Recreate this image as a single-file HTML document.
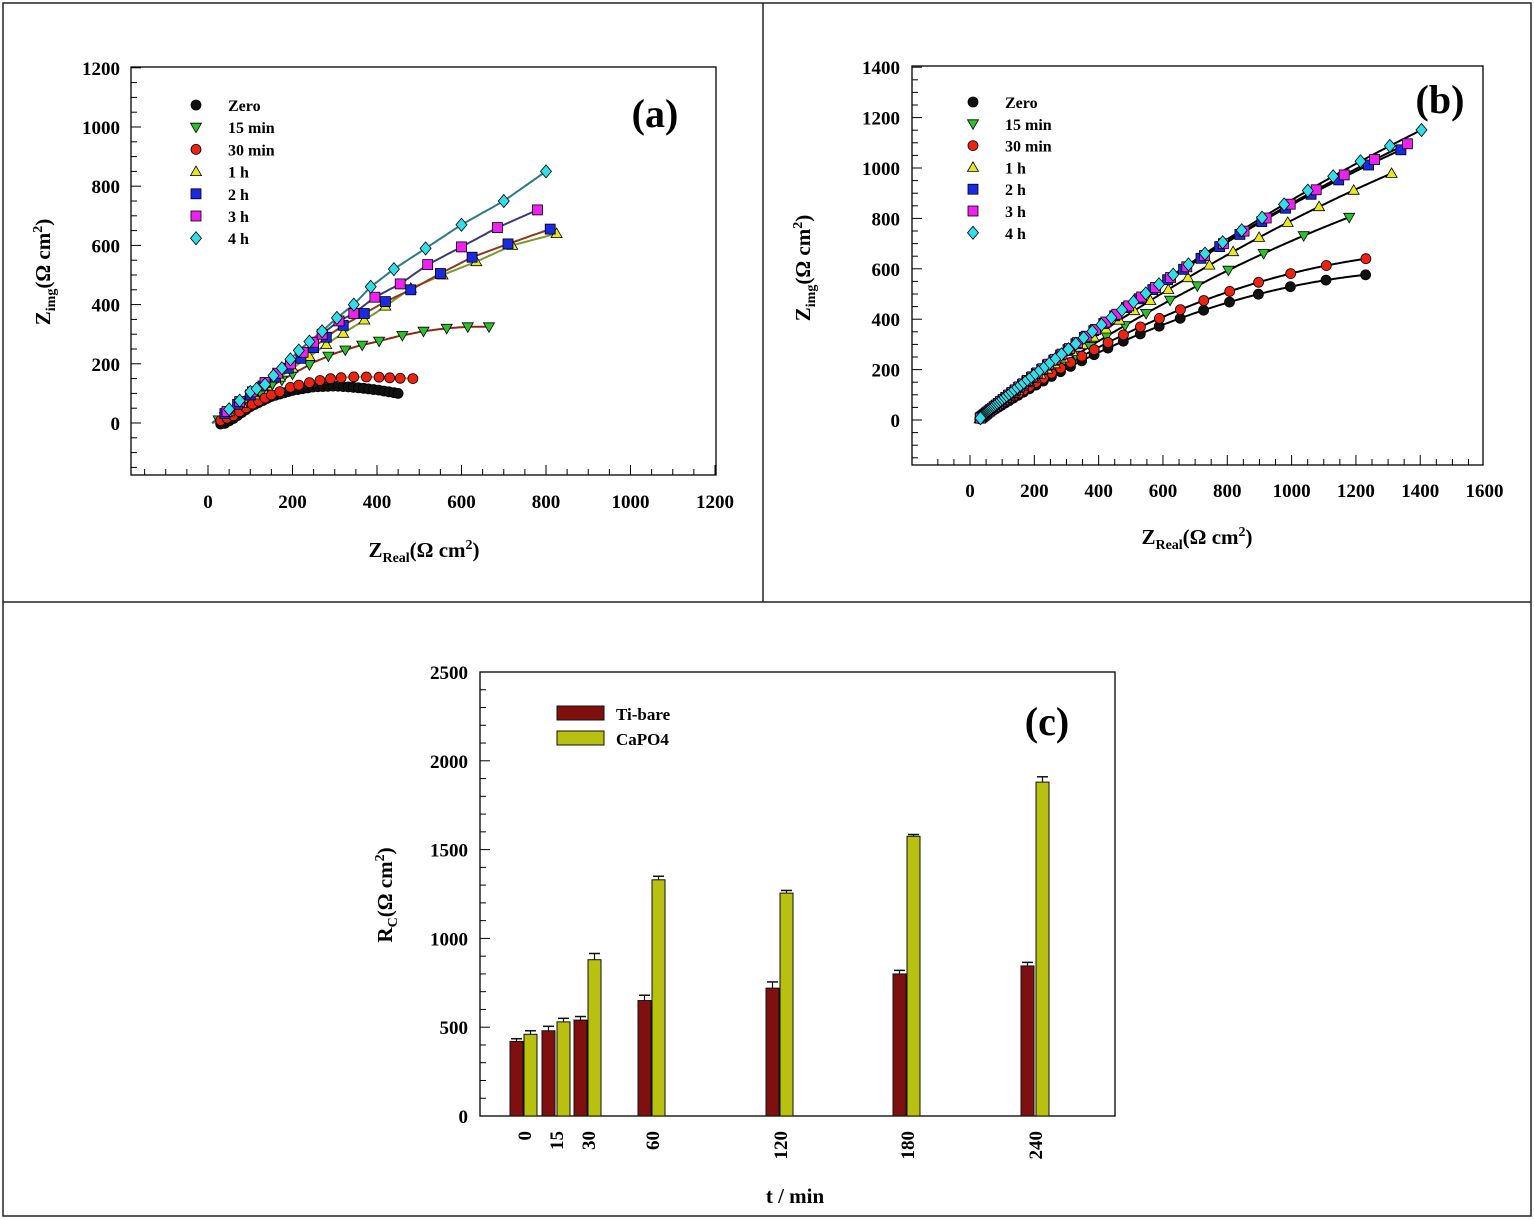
<!DOCTYPE html>
<html><head><meta charset="utf-8">
<style>
html,body{margin:0;padding:0;background:#fff;overflow:hidden;}
svg{display:block;font-family:"Liberation Serif",serif;font-weight:bold;}
</style></head>
<body>
<svg id="s" width="1534" height="1220" xmlns="http://www.w3.org/2000/svg">
<rect x="3" y="3" width="1528" height="1213" fill="none" stroke="#222" stroke-width="1.5"/>
<line x1="763" y1="3" x2="763" y2="602" stroke="#222" stroke-width="1.5"/>
<line x1="3" y1="602" x2="1531" y2="602" stroke="#222" stroke-width="1.5"/>
</svg>
<script>
const S=document.getElementById('s');let H='';
function add(s){H+=s;}
function mk(shape,x,y,c,r){
 x=+x;y=+y;r=r||5.5;
 const f=v=>v.toFixed(1);
 if(shape=='c')return `<circle cx="${f(x)}" cy="${f(y)}" r="${r}" fill="${c}" stroke="#000" stroke-width="0.8"/>`;
 if(shape=='d')return `<polygon points="${f(x)},${f(y-r*1.3)} ${f(x+r*1.1)},${f(y)} ${f(x)},${f(y+r*1.3)} ${f(x-r*1.1)},${f(y)}" fill="${c}" stroke="#000" stroke-width="0.8"/>`;
 if(shape=='s')return `<rect x="${f(x-r)}" y="${f(y-r)}" width="${2*r}" height="${2*r}" fill="${c}" stroke="#000" stroke-width="0.8"/>`;
 if(shape=='tu')return `<polygon points="${f(x)},${f(y-r*1.1)} ${f(x+r*1.1)},${f(y+r*0.8)} ${f(x-r*1.1)},${f(y+r*0.8)}" fill="${c}" stroke="#000" stroke-width="0.8"/>`;
 if(shape=='td')return `<polygon points="${f(x)},${f(y+r*1.1)} ${f(x+r*1.1)},${f(y-r*0.8)} ${f(x-r*1.1)},${f(y-r*0.8)}" fill="${c}" stroke="#000" stroke-width="0.8"/>`;
}
function interp(A,x){for(let i=1;i<A.length;i++){if(x<=A[i][0]){const a=A[i-1],b=A[i];return a[1]+(b[1]-a[1])*(x-a[0])/(b[0]-a[0]);}}return A[A.length-1][1];}
function T(x,y,t,sz,anchor,extra){return `<text x="${x}" y="${y}" font-size="${sz}" text-anchor="${anchor||'middle'}" ${extra||''}>${t}</text>`;}

/* ---------- Panel (a) ---------- */
{
const L=131,R=716,Tp=67,B=475;
const X=v=>208+v*0.4225, Y=v=>423-v*0.296;
add(`<rect x="${L}" y="${Tp}" width="${R-L}" height="${B-Tp}" fill="none" stroke="#000" stroke-width="1.3"/>`);
for(let v=-150;v<=1200;v+=50){const x=X(v);if(x<L+2)continue;const m=v%200==0;add(`<line x1="${x}" y1="${B}" x2="${x}" y2="${B-(m?10:6)}" stroke="#000"/>`);}
for(let v=-150;v<=1200;v+=50){const y=Y(v);if(y>B-2)continue;const m=v%200==0;add(`<line x1="${L}" y1="${y}" x2="${L+(m?10:6)}" y2="${y}" stroke="#000"/>`);}
for(let v=0;v<=1200;v+=200)add(T(X(v),508,v,19));
for(let v=0;v<=1200;v+=200)add(T(120,Y(v)+7,v,19,'end'));
add(`<text x="424" y="557" font-size="21" text-anchor="middle">Z<tspan font-size="14" dy="5">Real</tspan><tspan dy="-5">(Ω cm</tspan><tspan font-size="14" dy="-8">2</tspan><tspan dy="8">)</tspan></text>`);
add(`<text transform="translate(50,272) rotate(-90)" font-size="21" text-anchor="middle">Z<tspan font-size="14" dy="5">img</tspan><tspan dy="-5">(Ω cm</tspan><tspan font-size="14" dy="-8">2</tspan><tspan dy="8">)</tspan></text>`);
add(T(655,127,'(a)',40));
const ser=[
 ['c','#111','#2a5566',[[20,0],[35,-5],[60,15],[100,55],[150,90],[200,110],[250,122],[300,125],[350,120],[400,112],[450,100]],[30,40,50,60,70,80,90,100,110,120,130,140,150,160,170,180,190,200,212,224,236,248,260,272,284,296,308,320,332,344,356,368,380,392,404,416,428,440,450]],
 ['td','#2cc02c','#8b2a10',[[10,0],[60,35],[100,75],[150,125],[200,165],[250,205],[300,235],[350,258],[400,275],[450,293],[510,310],[565,320],[615,325],[665,325]],[25,40,60,80,100,125,150,175,200,240,285,325,365,405,460,510,565,615,665]],
 ['c','#ee2211','#e8a020',[[15,0],[60,25],[100,60],[150,95],[200,123],[250,140],[300,152],[350,156],[400,155],[450,151],[485,150]],[30,45,60,75,90,105,120,135,150,170,195,215,240,265,290,315,345,375,405,430,455,485]],
 ['tu','#e8e820','#7a9a30',[[10,0],[100,85],[200,185],[300,285],[400,375],[480,455],[555,500],[635,545],[720,600],[825,640]],[50,80,110,140,170,200,240,280,320,370,420,480,555,635,720,825]],
 ['s','#1a2ae0','#8b3a1a',[[10,0],[100,95],[200,195],[280,290],[320,330],[370,370],[420,410],[480,450],[550,505],[625,560],[710,605],[810,655]],[40,70,100,130,160,190,220,250,280,320,370,420,480,550,625,710,810]],
 ['s','#ee22ee','#3a3a7a',[[10,0],[100,100],[200,205],[270,300],[310,345],[345,370],[395,425],[455,470],[520,535],[600,595],[685,660],[780,720]],[45,75,105,135,165,195,225,250,270,310,345,395,455,520,600,685,780]],
 ['d','#33dde8','#2a7a8a',[[10,0],[100,105],[135,130],[155,160],[175,185],[195,215],[215,245],[240,275],[270,310],[305,355],[345,400],[385,460],[440,520],[515,590],[600,670],[700,750],[800,850]],[50,75,100,115,135,155,175,195,215,240,270,305,345,385,440,515,600,700,800]]
];
for(const s of ser){
 let pts=[];for(let x=s[3][0][0];x<=s[3][s[3].length-1][0];x+=4)pts.push(X(x).toFixed(1)+','+Y(interp(s[3],x)).toFixed(1));
 add(`<polyline points="${pts.join(' ')}" fill="none" stroke="${s[2]}" stroke-width="2"/>`);
}
for(const s of ser){for(const x of s[4])add(mk(s[0],X(x),Y(interp(s[3],x)),s[1],5));}
const lg=[['c','#111','Zero'],['td','#2cc02c','15 min'],['c','#ee2211','30 min'],['tu','#e8e820','1 h'],['s','#1a2ae0','2 h'],['s','#ee22ee','3 h'],['d','#33dde8','4 h']];
lg.forEach((g,i)=>{const y=105+i*22.2;add(mk(g[0],196,y,g[1],5));add(T(228,y+6,g[2],16,'start'));});
}

/* ---------- Panel (b) ---------- */
{
const L=912,R=1483,Tp=66,B=465;
const X=v=>970+v*0.3216, Y=v=>420-v*0.252;
add(`<rect x="${L}" y="${Tp}" width="${R-L}" height="${B-Tp}" fill="none" stroke="#000" stroke-width="1.3"/>`);
for(let v=-100;v<=1600;v+=50){const x=X(v);if(x<L+2||x>R-1)continue;const m=v%200==0;add(`<line x1="${x}" y1="${B}" x2="${x}" y2="${B-(m?10:6)}" stroke="#000"/>`);}
for(let v=-150;v<=1400;v+=50){const y=Y(v);if(y>B-2||y<Tp+1)continue;const m=v%200==0;add(`<line x1="${L}" y1="${y}" x2="${L+(m?10:6)}" y2="${y}" stroke="#000"/>`);}
for(let v=0;v<=1600;v+=200)add(T(X(v),497,v,19));
for(let v=0;v<=1400;v+=200)add(T(900,Y(v)+7,v,19,'end'));
add(`<text x="1197" y="544" font-size="21" text-anchor="middle">Z<tspan font-size="14" dy="5">Real</tspan><tspan dy="-5">(Ω cm</tspan><tspan font-size="14" dy="-8">2</tspan><tspan dy="8">)</tspan></text>`);
add(`<text transform="translate(810,268) rotate(-90)" font-size="21" text-anchor="middle">Z<tspan font-size="14" dy="5">img</tspan><tspan dy="-5">(Ω cm</tspan><tspan font-size="14" dy="-8">2</tspan><tspan dy="8">)</tspan></text>`);
add(T(1440,113,'(b)',40));
const ser=[
 ['c','#111',0.821,-2.846e-4,1230,0.90],
 ['td','#2cc02c',0.902,-1.775e-4,1179,0.88],
 ['c','#ee2211',0.877,-2.872e-4,1231,0.90],
 ['tu','#e8e820',0.973,-1.649e-4,1311,0.91],
 ['s','#1a2ae0',1.049,-1.777e-4,1340,0.925],
 ['s','#ee22ee',1.045,-1.677e-4,1360,0.925],
 ['d','#33dde8',1.042,-1.504e-4,1404,0.93]
];
const f=(s,x)=>{const u=Math.max(x-25,0);return s[2]*u+s[3]*u*u;};
for(const s of ser){
 let pts=[];for(let x=25;x<=s[4];x+=5)pts.push(X(x).toFixed(1)+','+Y(f(s,x)).toFixed(1));
 pts.push(X(s[4]).toFixed(1)+','+Y(f(s,s[4])).toFixed(1));
 add(`<polyline points="${pts.join(' ')}" fill="none" stroke="#000" stroke-width="2"/>`);
}
for(const s of ser){for(let x=s[4];x>=30;x*=s[5])add(mk(s[0],X(x),Y(f(s,x)),s[1],5));}
const lg=[['c','#111','Zero'],['td','#2cc02c','15 min'],['c','#ee2211','30 min'],['tu','#e8e820','1 h'],['s','#1a2ae0','2 h'],['s','#ee22ee','3 h'],['d','#33dde8','4 h']];
lg.forEach((g,i)=>{const y=102+i*21.8;add(mk(g[0],973,y,g[1],5));add(T(1005,y+6,g[2],16,'start'));});
}

/* ---------- Panel (c) ---------- */
{
const L=480,R=1115,Tp=672,B=1116;
const Y=v=>B-v*0.1776;
add(`<rect x="${L}" y="${Tp}" width="${R-L}" height="${B-Tp}" fill="none" stroke="#000" stroke-width="1.3"/>`);
for(let v=100;v<2500;v+=100)add(`<line x1="${L}" y1="${Y(v)}" x2="${L+(v%500==0?10:6)}" y2="${Y(v)}" stroke="#000"/>`);
for(let v=0;v<=2500;v+=500)add(T(468,Y(v)+7,v,19,'end'));
const ti=[[510,420,15],[542,480,25],[574,540,20],[638,650,30],[766,720,35],[893,800,20],[1021,845,20]];
const ca=[[524,460,20],[557,530,20],[588,880,35],[652,1330,20],[780,1255,15],[907,1575,10],[1036,1880,30]];
const lbl=['0','15','30','60','120','180','240'];
function bar(b,c){const x=b[0],w=13,y=Y(b[1]);add(`<rect x="${x}" y="${y}" width="${w}" height="${B-y}" fill="${c}" stroke="#111" stroke-width="1"/>`);
 const ye=Y(b[1]+b[2]);add(`<line x1="${x+w/2}" y1="${y}" x2="${x+w/2}" y2="${ye}" stroke="#111" stroke-width="1.2"/><line x1="${x+1}" y1="${ye}" x2="${x+w-1}" y2="${ye}" stroke="#111" stroke-width="1.5"/>`);}
ti.forEach(b=>bar(b,'#7f1010'));ca.forEach(b=>bar(b,'#b8c010'));
ti.forEach((b,i)=>add(`<text transform="translate(${b[0]+21},1131) rotate(-90)" font-size="19" text-anchor="end">${lbl[i]}</text>`));
add(T(795,1203,'t / min',21));
add(`<text transform="translate(392,895) rotate(-90)" font-size="21" text-anchor="middle">R<tspan font-size="14" dy="5">C</tspan><tspan dy="-5">(Ω cm</tspan><tspan font-size="14" dy="-8">2</tspan><tspan dy="8">)</tspan></text>`);
add(`<rect x="557" y="706" width="47" height="14" fill="#7f1010" stroke="#111"/><rect x="557" y="731" width="47" height="14" fill="#b8c010" stroke="#111"/>`);
add(T(616,720,'Ti-bare',17,'start'));add(T(616,745,'CaPO4',17,'start'));
add(T(1047,735,'(c)',40));
}
S.insertAdjacentHTML('beforeend',H);
</script>
</body></html>
